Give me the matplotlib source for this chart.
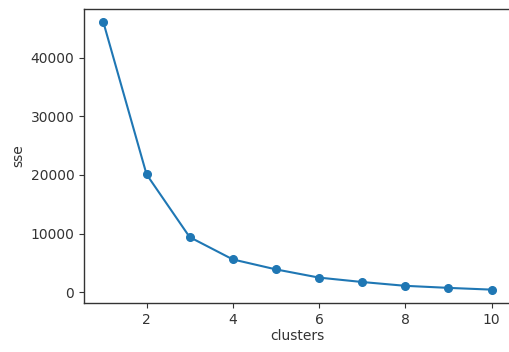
import numpy as np
import matplotlib
matplotlib.use("Agg")
import matplotlib.pyplot as plt

clusters = [1, 2, 3, 4, 5, 6, 7, 8, 9, 10]
sse = [46000, 20100, 9400, 5600, 3900, 2500, 1750, 1100, 750, 450]

plt.rcParams["font.family"] = ["DejaVu Sans"]
plt.rcParams["text.color"] = "#333333"

fig = plt.figure(figsize=(5.1, 3.52), dpi=100)
ax = fig.add_axes([84 / 510, 1 - 303 / 352, (511 - 84) / 510, (303 - 9) / 352])
ax.plot(clusters, sse, marker="o", color="#1f77b4", markersize=5.5, lw=1.5)
ax.set_xticks([2, 4, 6, 8, 10])
ax.set_yticks([0, 10000, 20000, 30000, 40000])
ax.set_xlabel("clusters", fontsize=10, color="#333333", labelpad=2)
ax.set_ylabel("sse", fontsize=10, color="#333333")
ax.tick_params(labelsize=10, colors="#333333", length=3.5, width=0.8)
for s in ax.spines.values():
    s.set_color("#333333")
    s.set_linewidth(1.0)

fig.savefig("out.png", dpi=100)
